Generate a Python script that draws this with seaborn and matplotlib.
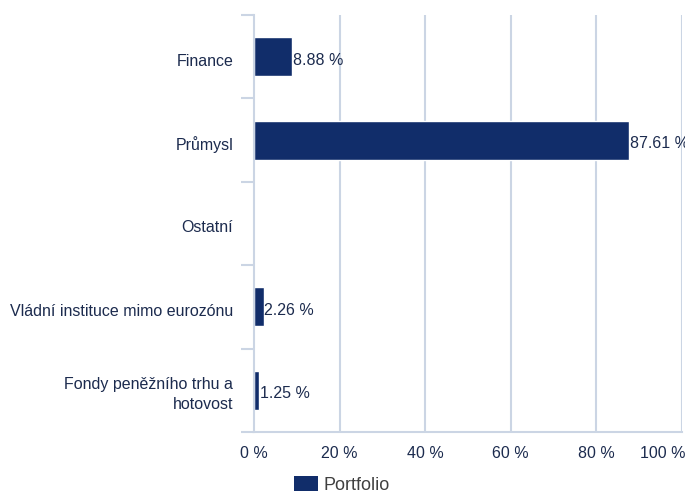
import matplotlib
matplotlib.use("Agg")
import matplotlib.pyplot as plt
from matplotlib.patches import Patch
from matplotlib.ticker import FixedLocator
from matplotlib.transforms import ScaledTranslation
import seaborn as sns
import pandas as pd

# Sector breakdown of the portfolio (percent)
categories = [
    "Finance",
    "Průmysl",
    "Ostatní",
    "Vládní instituce mimo eurozónu",
    "Fondy peněžního trhu a\nhotovost",
]
portfolio = [8.88, 87.61, 0.0, 2.26, 1.25]
x_ticks = [0, 20, 40, 60, 80, 100]
x_tick_labels = ["0 %", "20 %", "40 %", "60 %", "80 %", "100 %"]
series_name = "Portfolio"

BAR = "#112d6a"
TEXT = "#1c2b4e"
GRID = "#cbd5e4"
FS = 11.5

sns.set_theme(style="white")
plt.rcParams["font.family"] = ["Liberation Sans", "DejaVu Sans"]

df = pd.DataFrame({"sector": categories, "value": portfolio})

fig = plt.figure(figsize=(6.85, 4.93), dpi=100)
ax = fig.add_axes([254 / 685, 1 - 432 / 493, 428 / 685, 417 / 493])

sns.barplot(data=df, x="value", y="sector", orient="h", color=BAR,
            width=0.47, saturation=1, ax=ax)

labels = [f"{v:.2f} %" if v > 0 else "" for v in portfolio]
texts = ax.bar_label(ax.containers[0], labels=labels, padding=0.5, fontsize=FS, color=TEXT)
for t in texts:
    t.xyann = (0.5, -2.5)

ax.set_xlim(0, 100)
ax.set_ylim(len(categories) - 0.5, -0.5)
ax.set_xticks(x_ticks)
ax.set_xticklabels(x_tick_labels)
ax.set_xlabel("")
ax.set_ylabel("")

# vertical gridlines
for xv in x_ticks[1:]:
    ax.axvline(xv, color=GRID, lw=1.5, zorder=0)

for side in ["top", "right"]:
    ax.spines[side].set_visible(False)
for side in ["left", "bottom"]:
    ax.spines[side].set_color(GRID)
    ax.spines[side].set_linewidth(1.5)

# category labels at centres, tick marks at band boundaries
ax.tick_params(axis="y", which="major", length=0, pad=15, labelsize=FS, labelcolor=TEXT)
ax.yaxis.set_minor_locator(FixedLocator([i - 0.5 for i in range(len(categories) + 1)]))
ax.tick_params(axis="y", which="minor", length=9.5, width=1.5, color=GRID, direction="out", left=True)
ax.tick_params(axis="x", length=0, pad=10, labelsize=FS, labelcolor=TEXT)

shift_down = ScaledTranslation(0, -3 / 100, fig.dpi_scale_trans)
for lbl in ax.get_yticklabels():
    lbl.set_multialignment("right")
    if "\n" in lbl.get_text():
        lbl.set_linespacing(1.45)
    else:
        lbl.set_transform(lbl.get_transform() + shift_down)
ax.get_xticklabels()[-1].set_horizontalalignment("right")
ax.get_xticklabels()[-1].set_transform(
    ax.get_xticklabels()[-1].get_transform() + ScaledTranslation(3 / 100, 0, fig.dpi_scale_trans))

handle = Patch(facecolor=BAR, edgecolor="none")
fig.legend([handle], [series_name], loc="center", bbox_to_anchor=(342 / 685, 1 - 485 / 493),
           frameon=False, fontsize=13, handlelength=1.35, handleheight=0.9,
           handletextpad=0.3, labelcolor="#404040")

fig.savefig("out.png", dpi=100)
